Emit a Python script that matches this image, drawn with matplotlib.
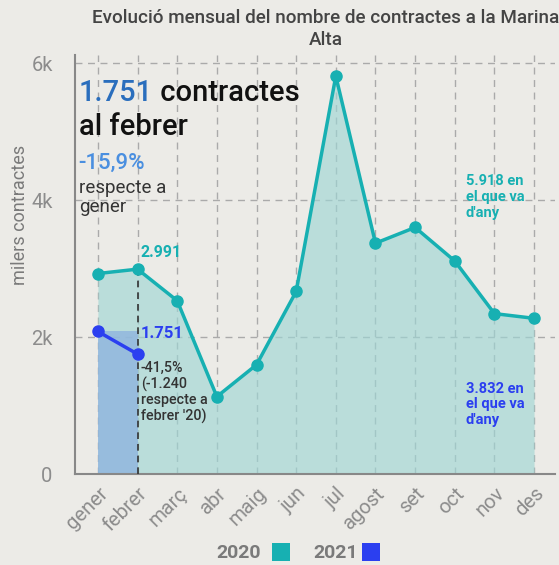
import matplotlib
matplotlib.use("Agg")
import matplotlib.pyplot as plt
from matplotlib.patches import Rectangle

months = ["gener", "febrer", "març", "abr", "maig", "jun", "jul",
          "agost", "set", "oct", "nov", "des"]
vals_2020 = [2927, 2991, 2530, 1130, 1595, 2665, 5810, 3370, 3600, 3110, 2342, 2273]
vals_2021 = [2081, 1751]
yticks = [0, 2000, 4000, 6000]
yticklabels = ["0", "2k", "4k", "6k"]

TEAL = "#17b0b2"
BLUE = "#2b3ff0"
BG = "#ecebe7"
GRAY = "#7a7a7a"

plt.rcParams["font.family"] = ["Roboto", "DejaVu Sans"]

fig = plt.figure(figsize=(5.59, 5.65), dpi=100, facecolor=BG)
ax = fig.add_axes([0.134, 0.161, 0.859, 0.742])
ax.set_facecolor(BG)

x = list(range(len(months)))
x21 = list(range(len(vals_2021)))

ax.fill_between(x, 0, vals_2020, color="#9fd6d4", alpha=0.65, lw=0, zorder=1)
ax.fill_between(x21, 0, vals_2021, step="post", color="#8fb4de", alpha=0.8, lw=0, zorder=2)
ax.plot(x, vals_2020, color=TEAL, lw=2.5, marker="o", ms=8, zorder=4)
ax.plot(x21, vals_2021, color=BLUE, lw=2.5, marker="o", ms=8, zorder=5)

# febrer reference line
ax.vlines(1, 0, vals_2020[1], colors="#333333", linestyles=(0, (4, 3)), lw=1.2, zorder=3)

ax.set_xlim(-0.58, 11.53)
ax.set_ylim(0, 6120)
ax.set_yticks(yticks)
ax.set_yticklabels(yticklabels)
ax.set_xticks(x)
ax.set_xticklabels(months, rotation=45, ha="right", rotation_mode="anchor")
ax.tick_params(axis="both", length=0, colors="#8c8c8c", labelsize=14.5)
ax.tick_params(axis="x", pad=7)
ax.tick_params(axis="y", pad=16)

ax.grid(True, ls=(0, (5, 4)), color="#aaaaaa", lw=1)
ax.set_axisbelow(True)
for s in ["top", "right"]:
    ax.spines[s].set_visible(False)
for s in ["left", "bottom"]:
    ax.spines[s].set_color("#888888")
    ax.spines[s].set_linewidth(1.5)

fig.text(0.582, 0.984, "Evolució mensual del nombre de contractes a la Marina\nAlta",
         ha="center", va="top", fontsize=13.6, color="#444444", fontweight="medium",
         linespacing=1.25)
fig.text(0.035, 0.62, "milers contractes", rotation=90, ha="center", va="center",
         fontsize=13, color=GRAY)

# big annotation
t1 = ax.annotate("1.751", xy=(0.008, 0.909), xycoords="axes fraction", fontsize=21,
                 color="#2a6ebd", va="center", ha="left", fontweight="medium")
ax.annotate(" contractes", xycoords=t1, xy=(1, 0.5), va="center", ha="left",
            fontsize=21, color="#111111", fontweight="medium")
ax.text(0.008, 0.828, "al febrer", transform=ax.transAxes, fontsize=21,
        color="#111111", va="center", ha="left", fontweight="medium")
ax.text(0.008, 0.740, "-15,9%", transform=ax.transAxes, fontsize=16,
        color="#4a8fe0", va="center", ha="left", fontweight="medium")
ax.text(0.008, 0.659, "respecte a\ngener", transform=ax.transAxes, fontsize=13.5,
        color="#333333", va="center", ha="left", linespacing=1.05)

ax.text(1.08, vals_2020[1] + 250, "2.991", fontsize=11.5, color=TEAL,
        fontweight="bold", va="center", ha="left")
ax.text(1.08, vals_2021[1] + 300, "1.751", fontsize=12, color=BLUE,
        fontweight="bold", va="center", ha="left")
ax.text(1.08, vals_2021[1] - 100, "-41,5%\n(-1.240\nrespecte a\nfebrer '20)",
        fontsize=10.3, color="#333333", va="top", ha="left", fontweight="medium",
        linespacing=1.12)
ax.text(9.28, 4044, "5.918 en\nel que va\nd'any", fontsize=10.5, color=TEAL,
        fontweight="bold", va="center", ha="left", linespacing=1.15)
ax.text(9.28, 1020, "3.832 en\nel que va\nd'any", fontsize=10.5, color=BLUE,
        fontweight="bold", va="center", ha="left", linespacing=1.15)

# legend
fig.text(0.467, 0.022, "2020", fontsize=14, color=GRAY, fontweight="bold",
         ha="right", va="center")
fig.patches.append(Rectangle((0.487, 0.007), 0.031, 0.032, transform=fig.transFigure,
                             facecolor=TEAL, edgecolor="none"))
fig.text(0.64, 0.022, "2021", fontsize=14, color=GRAY, fontweight="bold",
         ha="right", va="center")
fig.patches.append(Rectangle((0.648, 0.007), 0.031, 0.032, transform=fig.transFigure,
                             facecolor=BLUE, edgecolor="none"))

fig.savefig("out.png", dpi=100, facecolor=BG)
